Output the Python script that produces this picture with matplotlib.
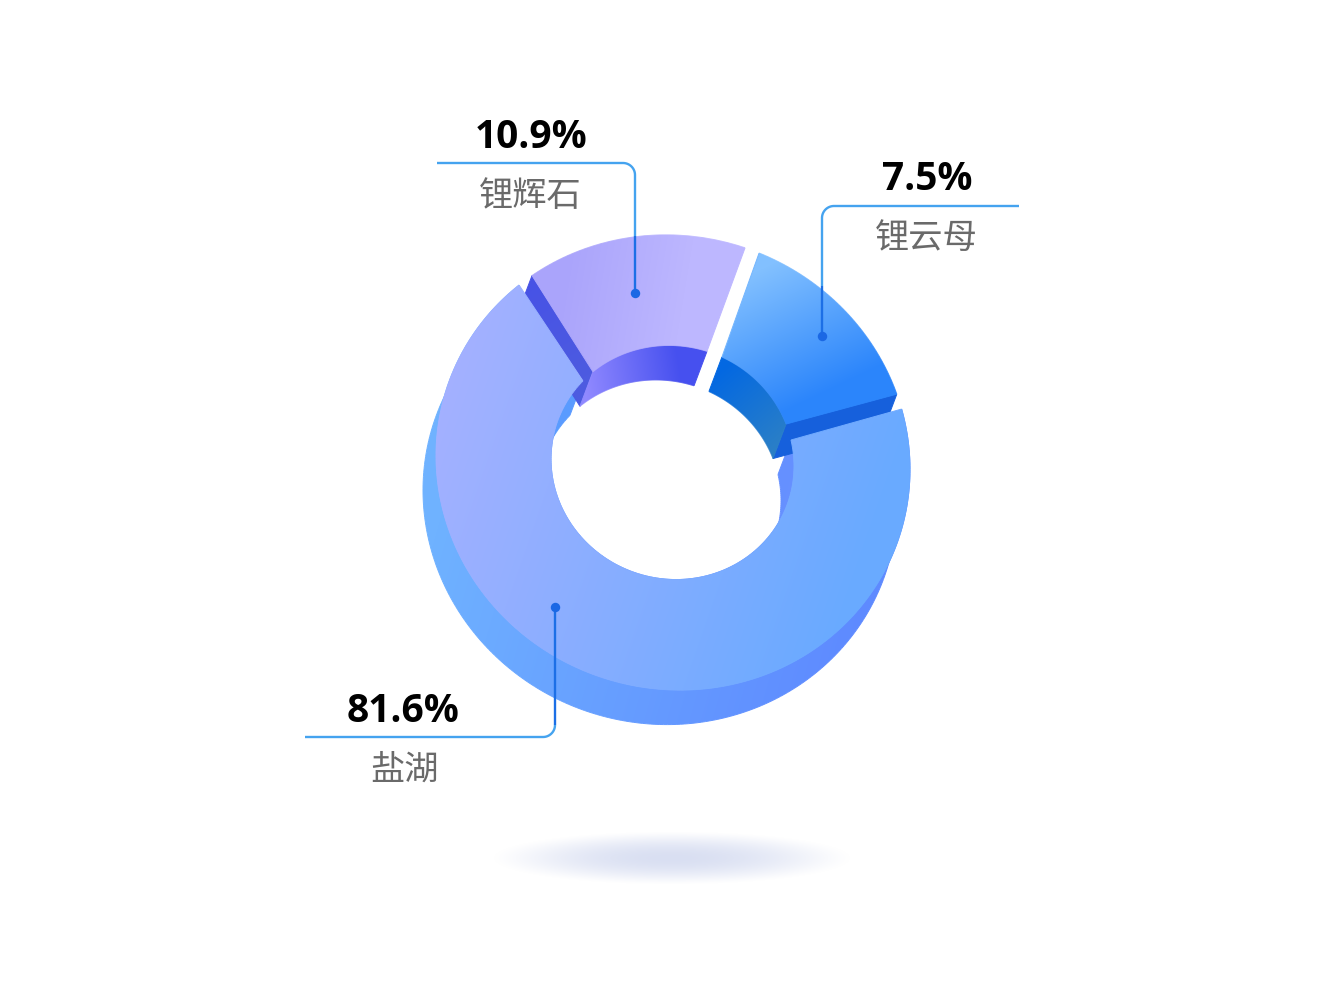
import matplotlib
matplotlib.use('Agg')
import matplotlib.pyplot as plt
import numpy as np
from matplotlib.collections import LineCollection
from matplotlib.colors import to_rgb
from matplotlib.patches import Polygon

plt.rcParams['font.family'] = ['Noto Sans CJK SC', 'DejaVu Sans']

# data
names = ['盐湖', '锂辉石', '锂云母']
shares = [81.6, 10.9, 7.5]

# slice edges as drawn in the picture, in degrees (the artwork is not to scale)
outer_edges = [(130.5, 375.3), (72.3, 126.5), (19.2, 68.7)]
inner_edges = [(137.5, 372.8), (73.5, 130.9), (20.9, 66.0)]

# ring geometry in pixels
cx, cy = 673, 462.5
outer_rx, outer_ry = 237, 227.5
inner_cx, inner_rx, inner_ry = 672.5, 121.5, 117
depth = (-13, 34.5)
tilt = 0.03

fig = plt.figure(figsize=(13.4, 10.05), dpi=100)
ax = fig.add_axes([0, 0, 1, 1])
ax.set_axis_off()


def arc(a0, a1, center_x, rx, ry, n=240):
    t = np.radians(np.linspace(a0, a1, n))
    x = center_x + rx * np.cos(t)
    y = cy - ry * (np.sin(t) - tilt * np.cos(t))
    return np.column_stack([x, y])


def outer_arc(a0, a1):
    return arc(a0, a1, cx, outer_rx, outer_ry)


def inner_arc(a0, a1):
    return arc(a0, a1, inner_cx, inner_rx, inner_ry)


def grad_fill(verts, c0, c1, p0, p1, z):
    # linear gradient clipped to a polygon, edges stroked so they stay smooth
    verts = np.asarray(verts)
    c0, c1 = np.array(to_rgb(c0)), np.array(to_rgb(c1))
    p0, p1 = np.array(p0, float), np.array(p1, float)
    d = p1 - p0

    def colour_at(px, py):
        f = ((px - p0[0]) * d[0] + (py - p0[1]) * d[1]) / (d @ d)
        f = np.clip(f, 0, 1)[..., None]
        return c0 + (c1 - c0) * f

    x0, y0 = np.floor(verts.min(axis=0)) - 2
    x1, y1 = np.ceil(verts.max(axis=0)) + 2
    X, Y = np.meshgrid(np.arange(x0, x1) + 0.5, np.arange(y0, y1) + 0.5)
    im = ax.imshow(colour_at(X, Y), extent=(x0, x1, y1, y0), aspect='auto',
                   interpolation='nearest', zorder=z)
    im.set_clip_path(Polygon(verts, closed=True, transform=ax.transData))

    closed = np.vstack([verts, verts[:1]])
    segs = np.stack([closed[:-1], closed[1:]], axis=1)
    mid = segs.mean(axis=1)
    ax.add_collection(LineCollection(segs, colors=colour_at(mid[:, 0], mid[:, 1]),
                                     linewidths=0.7, zorder=z + 0.1))


def band(path):
    # area swept by a path when it is pushed down by the ring depth
    return np.vstack([path, (path + depth)[::-1]])


def top_face(i):
    return np.vstack([outer_arc(*outer_edges[i]), inner_arc(*inner_edges[i])[::-1]])


# floor shadow
sx, sy = np.meshgrid(np.linspace(480, 865, 385), np.linspace(825, 890, 65))
r = np.sqrt(((sx - 672) / 180) ** 2 + ((sy - 858) / 27) ** 2)
shadow = np.ones(sx.shape + (4,))
shadow[..., :3] = to_rgb('#d9dff2')
shadow[..., 3] = np.clip(1 - r ** 2, 0, 1) ** 1.3
ax.imshow(shadow, extent=(480, 865, 890, 825), aspect='auto', zorder=1)

# big slice walls go first, the small slices sit behind its top face
grad_fill(band(outer_arc(*outer_edges[0])), '#6fb2ff', '#5e8aff', (440, 520), (860, 640), 2)
grad_fill(band(inner_arc(*inner_edges[0])), '#5a9cff', '#6690ff', (560, 420), (790, 480), 3)

# purple slice
o = outer_arc(*outer_edges[1])[-1]
n = inner_arc(*inner_edges[1])[-1]
grad_fill([o, n, n + depth, o + depth], '#4752e6', '#4d5be0', tuple(o), tuple(n), 4)
grad_fill(band(inner_arc(*inner_edges[1])), '#4650ef', '#9089ff', (680, 370), (585, 385), 5)
grad_fill(top_face(1), '#aaa4fb', '#bdb7ff', (560, 300), (680, 320), 6)

# blue slice
o = outer_arc(*outer_edges[2])[0]
n = inner_arc(*inner_edges[2])[0]
grad_fill([o, n, n + depth, o + depth], '#1660dc', '#1660dc', tuple(o), tuple(n), 7)
grad_fill(band(inner_arc(*inner_edges[2])), '#0368e2', '#2c80c6', (720, 370), (785, 445), 8)
grad_fill(top_face(2), '#82c0ff', '#2b85fb', (750, 275), (810, 400), 9)

# big slice top
grad_fill(top_face(0), '#a4b1ff', '#69aaff', (450, 370), (880, 520), 10)

# leaders and labels
line_light = '#45a3ef'
line_dark = '#1c6fe6'
leader_dots = [(555, 607), (635, 293), (822, 336)]
leader_ends = [(305, 737), (437, 163), (1019, 206)]
leader_exit = [725, 236, 286]
pct_pos = [(403, 711), (531, 137), (927, 179)]
name_pos = [(404, 770), (530, 196), (926, 238)]
radius = 12

for i in range(3):
    dx, dy = leader_dots[i]
    ex, ey = leader_ends[i]
    sv = np.sign(ey - dy)
    sh = np.sign(ex - dx)
    a = np.linspace(0, np.pi / 2, 20)
    corner_x = dx + sh * radius * (1 - np.cos(a))
    corner_y = ey - sv * radius * (1 - np.sin(a))
    ax.plot(np.r_[dx, corner_x, ex], np.r_[leader_exit[i], corner_y, ey],
            color=line_light, lw=1.7, solid_capstyle='butt', zorder=20)
    ax.plot([dx, dx], [dy, leader_exit[i]], color=line_dark, lw=1.7,
            solid_capstyle='butt', zorder=21)
    ax.plot(dx, dy, 'o', ms=6.8, mfc='#1b68e4', mec='none', zorder=22)

    ax.text(pct_pos[i][0], pct_pos[i][1], f'{shares[i]}%', ha='center', va='center',
            family='Open Sans', weight='bold', fontsize=28, color='black', zorder=23)
    ax.text(name_pos[i][0], name_pos[i][1], names[i], ha='center', va='center',
            fontsize=24.7, color='#6a6a6a', zorder=23)

ax.set_xlim(0, 1340)
ax.set_ylim(1005, 0)
fig.savefig('out.png', dpi=100, facecolor='white')
